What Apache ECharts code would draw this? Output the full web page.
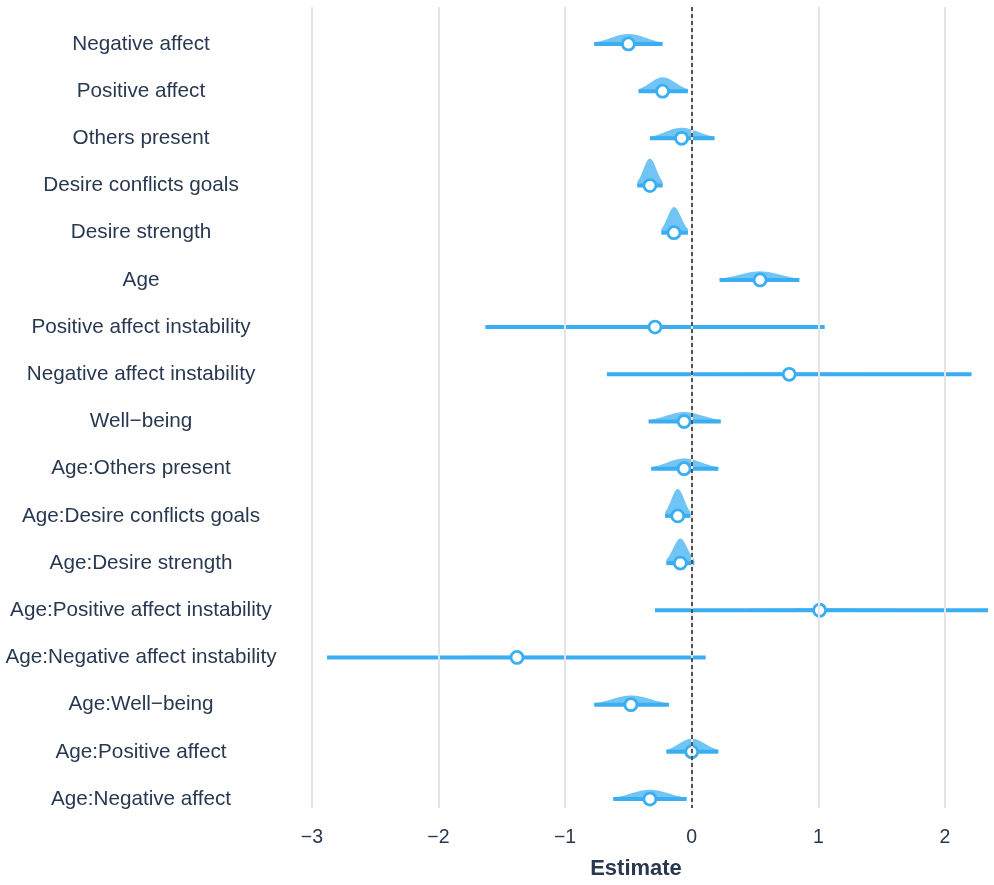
<!DOCTYPE html>
<html>
<head>
<meta charset="utf-8">
<script src="https://cdn.jsdelivr.net/npm/echarts@6/dist/echarts.min.js"></script>
<style>html,body{margin:0;padding:0;background:#fff;}#c{width:994px;height:885px;}</style>
</head>
<body>
<div id="c"></div>
<script>
const labels = ["Negative affect","Positive affect","Others present","Desire conflicts goals","Desire strength","Age","Positive affect instability","Negative affect instability","Well\u2212being","Age:Others present","Age:Desire conflicts goals","Age:Desire strength","Age:Positive affect instability","Age:Negative affect instability","Age:Well\u2212being","Age:Positive affect","Age:Negative affect"];
const estimate = [-0.50,-0.23,-0.08,-0.33,-0.14,0.54,-0.29,0.77,-0.06,-0.06,-0.11,-0.09,1.01,-1.38,-0.48,0.00,-0.33];
const lower    = [-0.77,-0.42,-0.33,-0.43,-0.24,0.22,-1.63,-0.67,-0.34,-0.32,-0.21,-0.20,-0.29,-2.88,-0.77,-0.20,-0.62];
const upper    = [-0.23,-0.03,0.18,-0.23,-0.03,0.85,1.05,2.21,0.23,0.21,-0.01,0.02,2.45,0.11,-0.18,0.21,-0.04];
const xTicks = [-3,-2,-1,0,1,2];

const BLUE = '#3aaef0';
const FILL = 'rgba(58,174,240,0.72)';
const TEXT = '#283850';
const DENS_K = 0.073;
const FONT = 'Liberation Sans, Arial, sans-serif';

const rows = labels.map((l,i)=>[i, estimate[i], lower[i], upper[i]]);

function renderItem(params, api){
  const idx = api.value(0), m = api.value(1), lo = api.value(2), hi = api.value(3);
  const rowPx = api.size([0,1])[1];
  const sL = (m-lo)/1.96, sR = (hi-m)/1.96;
  const C = 1/(Math.sqrt(2*Math.PI)*(sL+sR)/2);
  const pts = [];
  const N = 80;
  for(let j=0;j<=N;j++){
    const x = lo + (hi-lo)*j/N;
    const s = x<m ? sL : sR;
    const d = C*Math.exp(-(x-m)*(x-m)/(2*s*s));
    const p = api.coord([x, idx]);
    pts.push([p[0], p[1] - DENS_K*rowPx*d]);
  }
  const pHi = api.coord([hi, idx]), pLo = api.coord([lo, idx]);
  pts.push([pHi[0], pHi[1]]);
  pts.push([pLo[0], pLo[1]]);
  const c = api.coord([m, idx]);
  return {type:'group', children:[
    {type:'polygon', shape:{points:pts}, style:{fill:FILL, stroke:null}},
    {type:'line', shape:{x1:pLo[0], y1:pLo[1], x2:pHi[0], y2:pHi[1]}, style:{stroke:BLUE, lineWidth:4}},
    {type:'circle', shape:{cx:c[0], cy:c[1], r:6}, style:{fill:'#fff', stroke:BLUE, lineWidth:2.8}}
  ]};
}

const chart = echarts.init(document.getElementById('c'));
chart.setOption({
  backgroundColor:'#fff',
  animation:false,
  grid:{left:284, width:704, top:7, height:802},
  xAxis:{type:'value', min:-3.22, max:2.34,
    axisLine:{show:false}, axisTick:{show:false}, splitLine:{show:false},
    axisLabel:{customValues:xTicks, formatter:v=>String(v).replace('-','\u2212'), color:TEXT, fontSize:19.5, fontFamily:FONT, margin:20},
    name:'Estimate', nameLocation:'middle', nameGap:50,
    nameTextStyle:{color:TEXT, fontSize:22, fontWeight:'bold', fontFamily:FONT}
  },
  yAxis:{type:'value', inverse:true, min:-0.783, max:16.19,
    axisLine:{show:false}, axisTick:{show:false}, splitLine:{show:false},
    axisLabel:{customValues:labels.map((l,i)=>i), formatter:v=>labels[Math.round(v)]||'', align:'center', margin:143, color:TEXT, fontSize:20.7, fontFamily:FONT, padding:[4,0,0,0]}
  },
  series:[
    {type:'line', data:[], z:1, silent:true,
      markLine:{silent:true, symbol:['none','none'], label:{show:false},
        data: xTicks.map(v=>({xAxis:v, lineStyle:{color:'#e5e5e5', width:2, type:'solid'}}))}},
    {type:'line', data:[], z:5, silent:true,
      markLine:{silent:true, symbol:['none','none'], label:{show:false},
        data:[{xAxis:0, lineStyle:{color:'#222', width:1.5, type:[4,3]}}]}},
    {type:'custom', renderItem:renderItem, data:rows, clip:true, z:3,
      encode:{x:[1,2,3], y:0}}
  ]
});
</script>
</body>
</html>
